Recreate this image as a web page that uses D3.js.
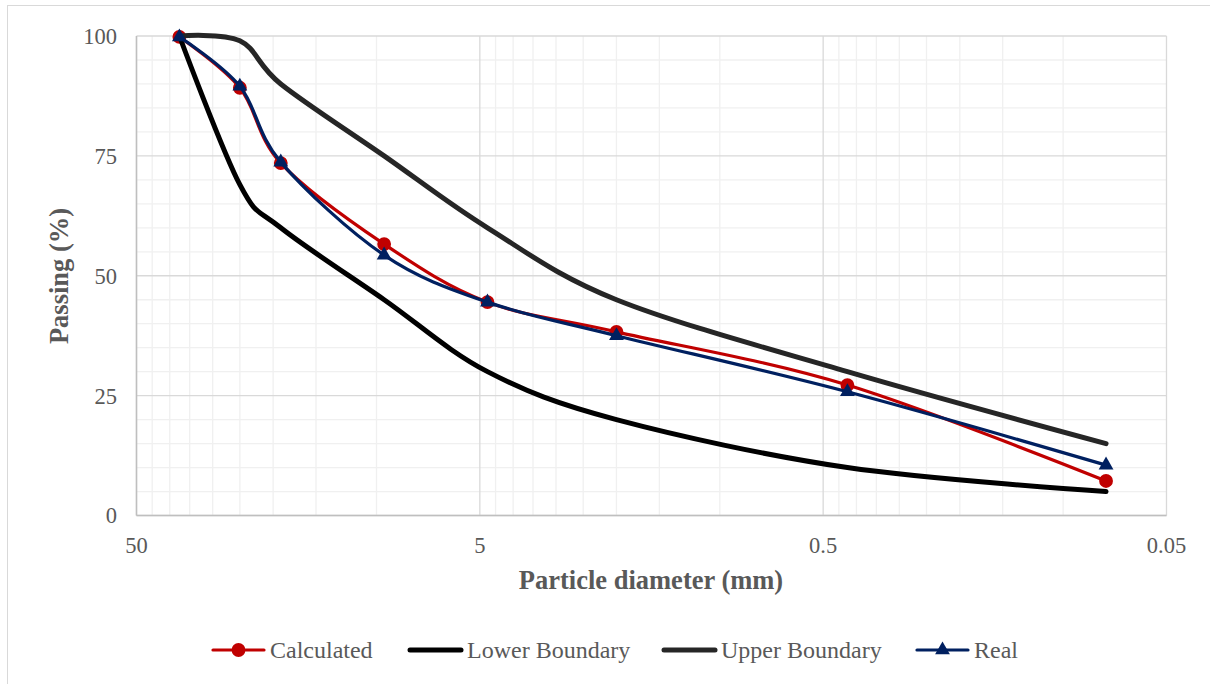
<!DOCTYPE html>
<html>
<head>
<meta charset="utf-8">
<script src="https://cdn.jsdelivr.net/npm/d3@7"></script>
<style>
  body { margin: 0; background: #fff; }
  text { font-family: "Liberation Serif", "Times New Roman", serif; fill: #595959; }
</style>
</head>
<body>
<div id="chart"></div>
<script>
// sieve sizes (mm)
const sizes = [37.5, 25, 19, 9.5, 4.75, 2.0, 0.425, 0.075];

const calculated = [99.8, 89.2, 73.5, 56.6, 44.5, 38.3, 27.2, 7.2];
const lowerBound = [100, 69, 60, 45, 30, 20, 10, 5];
const upperBound = [100, 99, 90, 75, 60, 45, 30, 15];
const real       = [99.8, 89.5, 73.7, 54.3, 44.5, 37.5, 25.8, 10.5];

const xTicks = [50, 5, 0.5, 0.05];
const yTicks = [0, 25, 50, 75, 100];
const seriesNames = ["Calculated", "Lower Boundary", "Upper Boundary", "Real"];

const width = 1210;
const height = 684;

const x = d3.scaleLog().domain([50, 0.05]).range([136.5, 1166.5]);
const y = d3.scaleLinear().domain([0, 100]).range([515.5, 36]);

const svg = d3.select("#chart")
              .append("svg")
              .attr("width", width)
              .attr("height", height);

// chart border (cut off by the window on the right and bottom)
svg.append("rect")
   .attr("x", 7.5).attr("y", 5.5)
   .attr("width", 1230).attr("height", 700)
   .attr("fill", "none")
   .attr("stroke", "#d9d9d9");

// minor grid
let minorX = [];
xTicks.slice(1).forEach(b => {
  for (let k = 2; k <= 9; k++) minorX.push(b * k);
});
let minorY = d3.range(0, 101, 5).filter(v => v % 25 !== 0);

const grid = svg.append("g");
grid.selectAll(".mx").data(minorX).enter().append("line")
    .attr("x1", d => x(d)).attr("x2", d => x(d))
    .attr("y1", y(0)).attr("y2", y(100))
    .attr("stroke", "#f0f0f0").attr("stroke-width", 1.3);
grid.selectAll(".my").data(minorY).enter().append("line")
    .attr("x1", x(50)).attr("x2", x(0.05))
    .attr("y1", d => y(d)).attr("y2", d => y(d))
    .attr("stroke", "#f0f0f0").attr("stroke-width", 1.3);
grid.selectAll(".Mx").data(xTicks).enter().append("line")
    .attr("x1", d => x(d)).attr("x2", d => x(d))
    .attr("y1", y(0)).attr("y2", y(100))
    .attr("stroke", "#d9d9d9").attr("stroke-width", 1.3);
grid.selectAll(".My").data(yTicks).enter().append("line")
    .attr("x1", x(50)).attr("x2", x(0.05))
    .attr("y1", d => y(d)).attr("y2", d => y(d))
    .attr("stroke", "#d9d9d9").attr("stroke-width", 1.3);

// axis lines
svg.append("line")
   .attr("x1", x(50)).attr("x2", x(50)).attr("y1", y(0)).attr("y2", y(100))
   .attr("stroke", "#bfbfbf").attr("stroke-width", 1.5);
svg.append("line")
   .attr("x1", x(50)).attr("x2", x(0.05)).attr("y1", y(0)).attr("y2", y(0))
   .attr("stroke", "#bfbfbf").attr("stroke-width", 1.5);

// tick labels
svg.selectAll(".ylab").data(yTicks).enter().append("text")
   .attr("x", 117).attr("y", d => y(d))
   .attr("dy", "0.35em")
   .attr("text-anchor", "end")
   .style("font-size", "22.5px")
   .text(d => d);
svg.selectAll(".xlab").data(xTicks).enter().append("text")
   .attr("x", d => x(d)).attr("y", 553)
   .attr("text-anchor", "middle")
   .style("font-size", "22.5px")
   .text(d => d);

// axis titles
svg.append("text")
   .attr("x", 651).attr("y", 589)
   .attr("text-anchor", "middle")
   .style("font-size", "26.5px").style("font-weight", "bold")
   .text("Particle diameter (mm)");
svg.append("text")
   .attr("transform", "translate(68, 276) rotate(-90)")
   .attr("text-anchor", "middle")
   .style("font-size", "26.5px").style("font-weight", "bold")
   .text("Passing (%)");

// series
const series = [
  { name: seriesNames[0], values: calculated, color: "#c00000", w: 3.2, marker: "circle" },
  { name: seriesNames[1], values: lowerBound, color: "#000000", w: 5, marker: null },
  { name: seriesNames[2], values: upperBound, color: "#262626", w: 5, marker: null },
  { name: seriesNames[3], values: real, color: "#002060", w: 3.2, marker: "triangle" }
];

const smooth = d3.line()
                 .x(d => x(d[0]))
                 .y(d => y(d[1]))
                 .curve(d3.curveCardinal.tension(0));

const symbolFor = m => m === "circle"
  ? d3.symbol().type(d3.symbolCircle).size(150)
  : d3.symbol().type(d3.symbolTriangle).size(95);

series.forEach(s => {
  const pts = sizes.map((sz, j) => [sz, s.values[j]]);
  svg.append("path")
     .datum(pts)
     .attr("d", smooth)
     .attr("fill", "none")
     .attr("stroke", s.color)
     .attr("stroke-width", s.w)
     .attr("stroke-linecap", "round")
     .attr("stroke-linejoin", "round");
  if (s.marker) {
    svg.selectAll(null).data(pts).enter().append("path")
       .attr("d", symbolFor(s.marker))
       .attr("transform", d => "translate(" + x(d[0]) + "," + y(d[1]) + ")")
       .attr("fill", s.color);
  }
});

// legend
const legendX = [213, 410, 664, 917];
const legend = svg.append("g");
series.forEach((s, i) => {
  const lx = legendX[i];
  legend.append("line")
        .attr("x1", lx).attr("x2", lx + 51)
        .attr("y1", 650).attr("y2", 650)
        .attr("stroke", s.color)
        .attr("stroke-width", s.w)
        .attr("stroke-linecap", "round");
  if (s.marker) {
    legend.append("path")
          .attr("d", symbolFor(s.marker))
          .attr("transform", "translate(" + (lx + 25.5) + ",650)")
          .attr("fill", s.color);
  }
  legend.append("text")
        .attr("x", lx + 57).attr("y", 650)
        .attr("dy", "0.35em")
        .style("font-size", "24px")
        .text(s.name);
});
</script>
</body>
</html>
